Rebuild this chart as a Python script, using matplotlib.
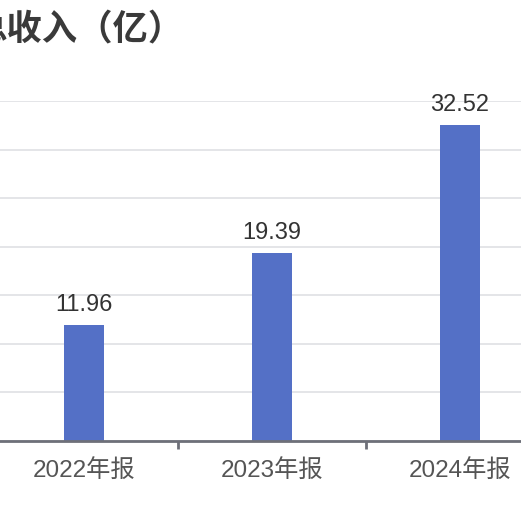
import matplotlib
matplotlib.use("Agg")
import matplotlib.pyplot as plt

categories = ["2022年报", "2023年报", "2024年报"]
values = [11.96, 19.39, 32.52]
title = "总收入（亿）"
yticks = [0, 5, 10, 15, 20, 25, 30, 35]

FAM = ["Liberation Sans", "Noto Sans CJK SC", "DejaVu Sans"]
plt.rcParams["font.family"] = FAM

W, H = 521, 520
fig = plt.figure(figsize=(W / 100, H / 100), dpi=100)
fig.patch.set_facecolor("white")

# axes extends beyond figure on both sides (cropped screenshot)
left_px, right_px = -10, 554
top_px, bottom_px = 101, 441
ax = fig.add_axes([left_px / W, (H - bottom_px) / H,
                   (right_px - left_px) / W, (bottom_px - top_px) / H])
ax.set_xlim(-0.5, len(categories) - 0.5)
ax.set_ylim(0, 35)

x = list(range(len(categories)))
ax.bar(x, values, width=0.213, color="#5470c6", zorder=3)

for xi, v in zip(x, values):
    ax.annotate(f"{v:.2f}", (xi, v), xytext=(0, 10), textcoords="offset points",
                ha="center", va="baseline", fontsize=17, color="#333333")

ax.set_yticks(yticks)
ax.yaxis.grid(True, color="#E2E3E6", linewidth=1.3, zorder=0)
ax.tick_params(axis="y", left=False, labelleft=False)
for s in ["top", "right", "left"]:
    ax.spines[s].set_visible(False)
ax.spines["bottom"].set_color("#6E7079")
ax.spines["bottom"].set_linewidth(2)
ax.spines["bottom"].set_zorder(4)

ax.set_xticks([0.5, 1.5])
ax.set_xticklabels([])
ax.tick_params(axis="x", which="major", length=6, width=2, color="#6E7079")
ax.set_xticks(x, minor=True)
ax.set_xticklabels(categories, minor=True, fontsize=17.5, color="#555555")
ax.tick_params(axis="x", which="minor", length=0, pad=13)

fig.text(-28 / W, 1 - 30 / H, title, ha="left", va="center", fontsize=25.5,
         color="#3a3a3a", fontweight="bold", family=FAM)

fig.savefig("out.png", dpi=100, facecolor="white")
